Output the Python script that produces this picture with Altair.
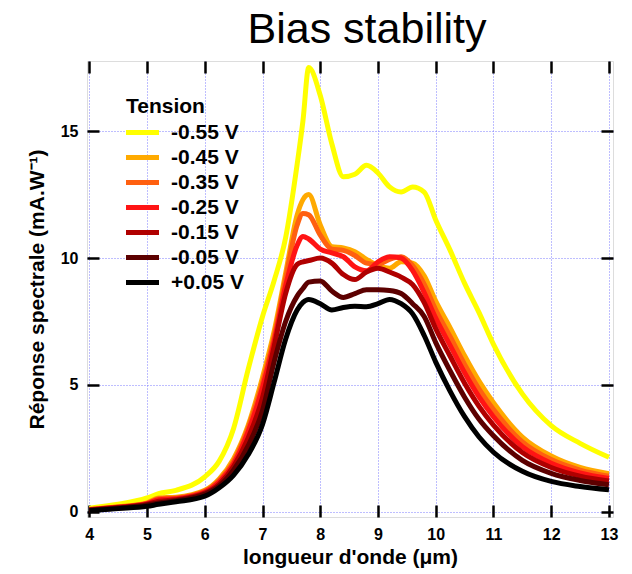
import altair as alt
import pandas as pd

wavelength = [4.0, 4.5, 5.0, 5.2, 5.5, 6.0, 6.25, 6.5, 6.75, 7.0, 7.2, 7.4, 7.6, 7.7, 7.8,
              8.0, 8.2, 8.4, 8.6, 8.8, 9.0, 9.2, 9.4, 9.6, 9.8, 10.0, 10.25, 10.5, 10.75,
              11.0, 11.5, 12.0, 12.5, 13.0]

tensions = ["-0.55 V", "-0.45 V", "-0.35 V", "-0.25 V", "-0.15 V", "-0.05 V", "+0.05 V"]
colors = ["#FFFF00", "#FFAA00", "#FF6010", "#FF1414", "#B00000", "#5C0000", "#000000"]

resp_m055 = [0.15, 0.3, 0.55, 0.72, 0.85, 1.38, 2.0, 3.3, 5.6, 7.7, 9.1, 10.8, 13.7, 15.4, 17.5,
             16.4, 14.5, 13.2, 13.3, 13.65, 13.35, 12.8, 12.6, 12.8, 12.6, 11.5, 10.3, 9.0, 7.85,
             6.6, 4.65, 3.4, 2.7, 2.15]
resp_m045 = [0.1, 0.2, 0.36, 0.55, 0.58, 0.85, 1.3, 2.1, 3.4, 5.3, 7.1, 9.4, 11.7, 12.3, 12.5,
             11.3, 10.45, 10.4, 10.25, 9.95, 9.7, 9.6, 9.85, 9.8, 9.3, 8.3, 7.25, 6.15, 5.15,
             4.3, 2.95, 2.2, 1.75, 1.5]
resp_m035 = [0.1, 0.19, 0.34, 0.52, 0.55, 0.82, 1.25, 2.0, 3.3, 5.1, 6.9, 9.2, 11.3, 11.75, 11.7,
             10.9, 10.35, 10.3, 10.1, 9.8, 9.75, 9.95, 10.05, 9.7, 8.97, 7.96, 6.9, 5.81, 4.84,
             4.03, 2.76, 2.06, 1.65, 1.41]
resp_m025 = [0.09, 0.18, 0.32, 0.48, 0.52, 0.78, 1.18, 1.9, 3.15, 4.9, 6.7, 8.9, 10.5, 10.85, 10.75,
             10.35, 10.2, 10.05, 9.65, 9.5, 9.85, 10.05, 10.0, 9.5, 8.64, 7.63, 6.55, 5.48, 4.53,
             3.75, 2.57, 1.92, 1.54, 1.32]
resp_m015 = [0.08, 0.17, 0.3, 0.42, 0.48, 0.74, 1.1, 1.8, 2.9, 4.5, 6.5, 8.6, 9.75, 9.85, 9.9,
             10.0, 9.8, 9.35, 9.15, 9.45, 9.6, 9.45, 9.25, 8.95, 8.24, 7.22, 6.13, 5.07, 4.16,
             3.42, 2.34, 1.75, 1.41, 1.22]
resp_m005 = [0.07, 0.15, 0.27, 0.35, 0.44, 0.7, 1.02, 1.65, 2.6, 4.0, 5.9, 7.5, 8.5, 8.8, 9.05,
             9.1, 8.7, 8.45, 8.6, 8.75, 8.75, 8.72, 8.6, 8.2, 7.7, 6.67, 5.55, 4.52, 3.65,
             3.0, 2.03, 1.52, 1.24, 1.07]
resp_p005 = [0.05, 0.13, 0.22, 0.3, 0.4, 0.62, 0.95, 1.45, 2.25, 3.45, 5.1, 6.8, 7.95, 8.25, 8.37,
             8.2, 7.95, 8.05, 8.1, 8.08, 8.2, 8.37, 8.2, 7.8, 6.95, 5.9, 4.75, 3.75, 2.95,
             2.35, 1.6, 1.2, 1.0, 0.87]

series = [resp_m055, resp_m045, resp_m035, resp_m025, resp_m015, resp_m005, resp_p005]

x_ticks = [4, 5, 6, 7, 8, 9, 10, 11, 12, 13]
y_ticks = [0, 5, 10, 15]

rows = []
for t, vals in zip(tensions, series):
    for x, y in zip(wavelength, vals):
        rows.append({"wl": x, "resp": y, "Tension": t})
df = pd.DataFrame(rows)

W, H = 526, 456
FONT = "Liberation Sans"
GRID = "#7C7CFF"

xscale = alt.Scale(domain=[3.96, 13.07], nice=False, zero=False)
yscale = alt.Scale(domain=[-0.2, 17.76], nice=False, zero=False)

base = alt.Chart(df)

lines = base.mark_line(strokeWidth=5, interpolate="monotone", clip=True).encode(
    x=alt.X("wl:Q", scale=xscale, axis=alt.Axis(
        orient="bottom", values=x_ticks, title="longueur d'onde (μm)",
        grid=True, gridColor=GRID, gridDash=[1, 2], gridWidth=1,
        ticks=False, tickSize=0, domain=False,
        labelFont=FONT, labelFontSize=16, labelFontWeight="bold", labelColor="black",
        labelPadding=9, labelFlush=False,
        titleFont=FONT, titleFontSize=21, titleFontWeight="bold", titleColor="black",
        titlePadding=4)),
    y=alt.Y("resp:Q", scale=yscale, axis=alt.Axis(
        orient="left", values=y_ticks, title="Réponse spectrale (mA.W⁻¹)",
        grid=True, gridColor=GRID, gridDash=[1, 2], gridWidth=1,
        ticks=False, tickSize=0, domain=False,
        labelFont=FONT, labelFontSize=16, labelFontWeight="bold", labelColor="black",
        labelPadding=9, labelFlush=False,
        titleFont=FONT, titleFontSize=21, titleFontWeight="bold", titleColor="black",
        titlePadding=13)),
    color=alt.Color("Tension:N", scale=alt.Scale(domain=tensions, range=colors),
                    sort=tensions,
                    legend=alt.Legend(
                        orient="none", legendX=39, legendY=35,
                        title="Tension", titleFont=FONT, titleFontSize=21,
                        titleFontWeight="bold", titleColor="black", titlePadding=3,
                        labelFont=FONT, labelFontSize=21, labelFontWeight="bold",
                        labelColor="black", labelOffset=20,
                        symbolType="M-1.25,0L2.05,0", symbolSize=400,
                        symbolStrokeWidth=5, rowPadding=2)),
)

tick_common = dict(labels=False, domain=False, grid=False, ticks=True, tickSize=12,
                   tickWidth=2.5, tickColor="black", title=None)

ticks_a = base.mark_point(opacity=0).encode(
    x=alt.X("wl:Q", scale=xscale, axis=alt.Axis(orient="top", offset=-H, values=x_ticks, **tick_common)),
    y=alt.Y("resp:Q", scale=yscale, axis=alt.Axis(orient="right", offset=-W, values=y_ticks, **tick_common)),
)
ticks_b = base.mark_point(opacity=0).encode(
    x=alt.X("wl:Q", scale=xscale, axis=alt.Axis(orient="bottom", offset=-H, values=x_ticks, **tick_common)),
    y=alt.Y("resp:Q", scale=yscale, axis=alt.Axis(orient="left", offset=-W, values=y_ticks, **tick_common)),
)

chart = alt.layer(lines, ticks_a, ticks_b).resolve_axis(
    x="independent", y="independent"
).properties(
    width=W, height=H,
    title=alt.Title("Bias stability", font=FONT, fontSize=43, fontWeight="normal",
                    color="black", anchor="middle", dx=17, offset=8),
    padding={"left": 79, "top": 53, "right": 11, "bottom": 57},
    autosize=alt.AutoSizeParams(type="none"),
).configure_view(stroke="black", strokeWidth=3).configure(background="white")

chart.save("out.html", embed_options={"renderer": "svg", "actions": False})
